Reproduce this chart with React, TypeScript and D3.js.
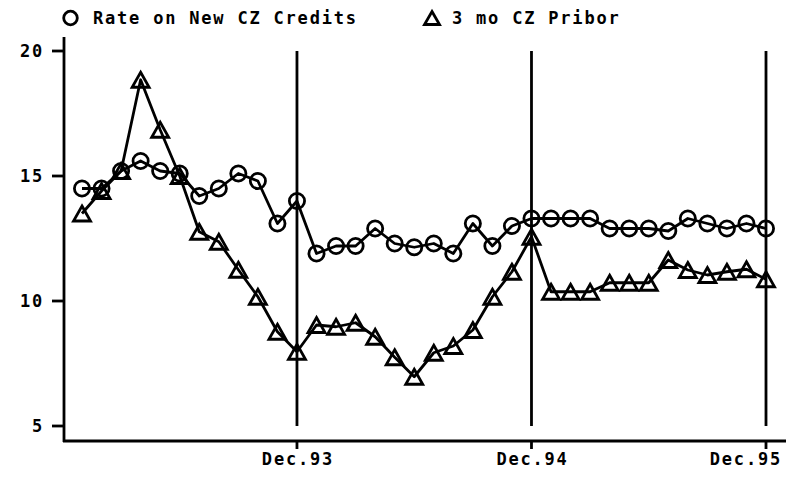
import React from "react";
import * as d3 from "d3";

const months: number[] = Array.from({ length: 36 }, (_, i) => i); // Jan.93 .. Dec.95
const rateNewCredits: number[] = [
  14.5, 14.5, 15.2, 15.6, 15.2, 15.1, 14.2, 14.5, 15.1, 14.8, 13.1, 14.0,
  11.9, 12.2, 12.2, 12.9, 12.3, 12.15, 12.3, 11.9, 13.1, 12.2, 13.0, 13.3,
  13.3, 13.3, 13.3, 12.9, 12.9, 12.9, 12.8, 13.3, 13.1, 12.9, 13.1, 12.9,
];
const pribor3m: number[] = [
  13.5, 14.4, 15.2, 18.85, 16.85, 15.0, 12.77, 12.37, 11.25, 10.17, 8.77, 7.97,
  9.04, 8.97, 9.13, 8.57, 7.75, 6.97, 7.93, 8.2, 8.84, 10.17, 11.17, 12.57,
  10.37, 10.37, 10.37, 10.73, 10.73, 10.73, 11.64, 11.24, 11.04, 11.17, 11.27, 10.87,
];
const xTickIdx: number[] = [11, 23, 35];
const xTickLabels: string[] = ["Dec.93", "Dec.94", "Dec.95"];
const yTicks: number[] = [5, 10, 15, 20];
const seriesNames: string[] = ["Rate on New CZ Credits", "3 mo CZ Pribor"];

const FONT = "'DejaVu Sans Mono', monospace";
const SW = 2.8;

function triPath(cx: number, cy: number, w = 17, h = 15) {
  return `M${cx},${cy - h / 2}L${cx + w / 2},${cy + h / 2}L${cx - w / 2},${cy + h / 2}Z`;
}

export default function App() {
  const W = 791, H = 477;
  const x = d3.scaleLinear().domain([0, 35]).range([82, 766]);
  const y = d3.scaleLinear().domain([5, 20]).range([426, 51]);
  const axisX = 64, axisY = 441;

  const line = d3
    .line<number>()
    .x((_, i) => x(months[i]))
    .y((d) => y(d));

  const textStyle: React.CSSProperties = {
    fontFamily: FONT,
    fontWeight: "bold",
    fontSize: 17,
    letterSpacing: 1.8,
  };

  return (
    <svg
      width={W}
      height={H}
      style={{ position: "absolute", left: 0, top: 0, background: "#fff" }}
    >
      {/* legend */}
      <circle cx={70.5} cy={18} r={6.8} fill="none" stroke="#000" strokeWidth={SW} />
      <text x={93} y={23.5} style={textStyle}>{seriesNames[0]}</text>
      <path d={triPath(432, 18, 15, 13)} fill="none" stroke="#000" strokeWidth={SW} />
      <text x={452} y={23.5} style={textStyle}>{seriesNames[1]}</text>

      {/* axes */}
      <line x1={axisX} x2={axisX} y1={37} y2={axisY + 1} stroke="#000" strokeWidth={SW} />
      <line x1={axisX - 1} x2={786} y1={axisY} y2={axisY} stroke="#000" strokeWidth={SW} />
      {yTicks.map((t) => (
        <g key={t}>
          <line x1={axisX - 12} x2={axisX} y1={y(t)} y2={y(t)} stroke="#000" strokeWidth={SW} />
          <text x={44} y={y(t) + 6} textAnchor="end" style={textStyle}>
            {t}
          </text>
        </g>
      ))}
      {xTickIdx.map((t, i) => {
        const px = x(t);
        const last = px + 36 > 782;
        return (
          <g key={t}>
            <line x1={px} x2={px} y1={axisY} y2={axisY + 8} stroke="#000" strokeWidth={SW} />
            <text
              x={last ? 782 : px + 1}
              y={465}
              textAnchor={last ? "end" : "middle"}
              style={textStyle}
            >
              {xTickLabels[i]}
            </text>
          </g>
        );
      })}

      {/* vertical reference lines */}
      {xTickIdx.map((t) => (
        <line key={"v" + t} x1={x(t)} x2={x(t)} y1={y(20)} y2={y(5)} stroke="#000" strokeWidth={SW} />
      ))}

      {/* series lines */}
      <path d={line(rateNewCredits) || ""} fill="none" stroke="#000" strokeWidth={SW} strokeLinejoin="round" />
      <path d={line(pribor3m) || ""} fill="none" stroke="#000" strokeWidth={SW} strokeLinejoin="round" />

      {/* markers */}
      {rateNewCredits.map((v, i) => (
        <circle key={"c" + i} cx={x(months[i])} cy={y(v)} r={7.6} fill="none" stroke="#000" strokeWidth={SW} />
      ))}
      {pribor3m.map((v, i) => (
        <path key={"t" + i} d={triPath(x(months[i]), y(v))} fill="none" stroke="#000" strokeWidth={SW} strokeLinejoin="miter" />
      ))}
    </svg>
  );
}
